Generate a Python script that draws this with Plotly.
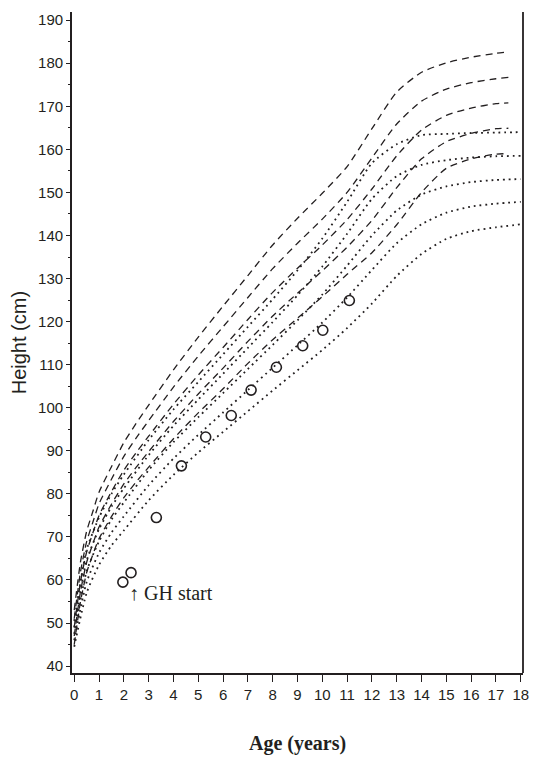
import plotly.graph_objects as go

# Reference ages (years) for the dashed standard curves (-2SD .. +2SD)
ref_age = [0, 0.25, 0.5, 0.75, 1, 1.5, 2, 2.5, 3, 4, 5, 6, 7, 8, 9, 10,
           11, 12, 13, 14, 15, 16, 17, 17.5]
ref_m2sd = [45.0, 54.9, 61.7, 65.9, 69.6, 74.7, 79.1, 82.8, 86.2, 92.8, 98.8, 104.4,
            110.3, 115.8, 120.8, 125.8, 131.0, 136.0, 142.5, 150.0, 155.6, 157.8,
            158.9, 159.0]
ref_m1sd = [47.0, 57.2, 64.1, 68.4, 72.3, 77.6, 82.3, 86.2, 89.8, 96.8, 103.2, 109.2,
            115.4, 121.3, 126.6, 131.8, 137.3, 143.5, 151.1, 157.8, 161.8, 163.7,
            164.8, 164.9]
ref_med = [49.0, 59.5, 66.5, 70.9, 75.0, 80.5, 85.5, 89.6, 93.4, 100.8, 107.6, 114.0,
           120.5, 126.8, 132.4, 137.8, 143.7, 150.8, 158.5, 164.5, 167.9, 169.6,
           170.6, 170.8]
ref_p1sd = [51.0, 61.8, 68.9, 73.4, 77.7, 83.4, 88.7, 93.0, 97.0, 104.8, 112.0, 118.8,
            125.6, 132.3, 138.2, 143.8, 150.0, 158.0, 165.9, 171.2, 174.0, 175.5,
            176.4, 176.7]
ref_p2sd = [53.0, 64.1, 71.3, 75.9, 80.4, 86.3, 91.9, 96.4, 100.6, 108.8, 116.4, 123.6,
            130.7, 137.8, 144.0, 149.8, 156.0, 164.8, 173.3, 177.9, 180.1, 181.4,
            182.3, 182.6]

# Disease-specific reference (dotted curves, -2SD .. +2SD)
syn_age = [0, 0.5, 1, 1.5, 2, 3, 4, 5, 6, 7, 8, 9, 10, 11, 12, 13, 14, 15, 16, 17, 18]
syn_m2sd = [44.5, 57.0, 63.5, 68.0, 71.5, 78.5, 84.4, 89.6, 94.4, 99.2, 104.0, 108.7,
            113.4, 118.5, 124.2, 130.6, 135.7, 139.2, 141.0, 141.9, 142.6]
syn_m1sd = [46.0, 59.5, 66.3, 71.0, 74.8, 82.0, 88.2, 93.7, 98.9, 104.1, 109.3, 114.5,
            119.8, 125.6, 132.0, 138.2, 142.6, 145.3, 146.7, 147.4, 147.8]
syn_med = [47.5, 62.0, 69.0, 74.0, 78.0, 85.5, 92.0, 97.8, 103.4, 109.0, 114.6, 120.3,
           126.3, 133.0, 140.0, 145.8, 149.5, 151.4, 152.4, 152.9, 153.1]
syn_p1sd = [49.0, 64.5, 71.8, 77.0, 81.3, 89.0, 95.8, 101.9, 107.9, 113.9, 119.9, 126.1,
            132.8, 140.4, 148.5, 153.8, 156.4, 157.5, 158.1, 158.4, 158.5]
syn_p2sd = [50.5, 67.0, 74.5, 80.0, 84.5, 92.5, 99.6, 106.0, 112.4, 118.8, 125.2, 131.9,
            139.3, 147.8, 156.8, 161.2, 163.3, 163.6, 163.8, 163.9, 164.0]

# Patient measurements
pt_age = [1.96, 2.29, 3.31, 4.32, 5.30, 6.33, 7.13, 8.15, 9.21, 10.02, 11.09]
pt_height = [59.5, 61.7, 74.5, 86.5, 93.2, 98.2, 104.1, 109.4, 114.4, 118.0, 124.9]

x_ticks = list(range(0, 19))
y_ticks = list(range(40, 191, 10))

INK = "#231f20"
fig = go.Figure()

for ys in [ref_m2sd, ref_m1sd, ref_med, ref_p1sd, ref_p2sd]:
    fig.add_trace(go.Scatter(
        x=ref_age, y=ys, mode="lines",
        line=dict(color=INK, width=1.3, dash="7px,5px", shape="spline", smoothing=0.6),
        hoverinfo="skip", showlegend=False))

for ys in [syn_m2sd, syn_m1sd, syn_med, syn_p1sd, syn_p2sd]:
    fig.add_trace(go.Scatter(
        x=syn_age, y=ys, mode="lines",
        line=dict(color=INK, width=1.8, dash="1.8px,4px", shape="spline", smoothing=0.6),
        hoverinfo="skip", showlegend=False))

fig.add_trace(go.Scatter(
    x=pt_age, y=pt_height, mode="markers",
    marker=dict(symbol="circle-open", size=10, color=INK, line=dict(width=1.6, color=INK)),
    showlegend=False))

fig.add_annotation(x=2.12, y=57.0, xref="x", yref="y", text="\u2191 GH start",
                   showarrow=False, xanchor="left", yanchor="middle",
                   font=dict(family="Liberation Serif", size=20, color=INK))

fig.add_annotation(x=-0.118, y=0.5, xref="paper", yref="paper", text="Height (cm)",
                   showarrow=False, textangle=-90, xanchor="center", yanchor="middle",
                   font=dict(family="Liberation Sans", size=20, color=INK))

fig.add_annotation(x=0.5, y=-0.106, xref="paper", yref="paper", text="<b>Age (years)</b>",
                   showarrow=False, xanchor="center", yanchor="middle",
                   font=dict(family="Liberation Serif", size=20, color=INK))

# right-hand frame line
fig.add_shape(type="line", xref="paper", yref="paper", x0=1, x1=1, y0=0, y1=1,
              line=dict(color=INK, width=1.8))

fig.update_layout(
    width=536, height=759,
    margin=dict(l=72, r=7, t=12, b=86),
    paper_bgcolor="white", plot_bgcolor="white",
    font=dict(family="Liberation Sans", size=15, color=INK),
)
fig.update_xaxes(range=[-0.09, 18.09], tickvals=x_ticks, ticktext=[str(v) for v in x_ticks],
                 ticks="outside", ticklen=7, tickwidth=1.4, tickcolor=INK,
                 showline=True, linecolor=INK, linewidth=1.8, showgrid=False, zeroline=False,
                 tickfont=dict(family="Liberation Sans", size=15, color=INK))
fig.update_yaxes(range=[38.4, 191.9], tickvals=y_ticks, ticktext=[str(v) for v in y_ticks],
                 ticks="outside", ticklen=4, tickwidth=1.4, tickcolor=INK,
                 minor=dict(tickvals=list(range(45, 191, 10)), ticks="outside", ticklen=2,
                            tickwidth=1.4, tickcolor=INK),
                 showline=True, linecolor=INK, linewidth=1.8, showgrid=False, zeroline=False,
                 tickfont=dict(family="Liberation Sans", size=15, color=INK))

fig.write_html("out.html")
